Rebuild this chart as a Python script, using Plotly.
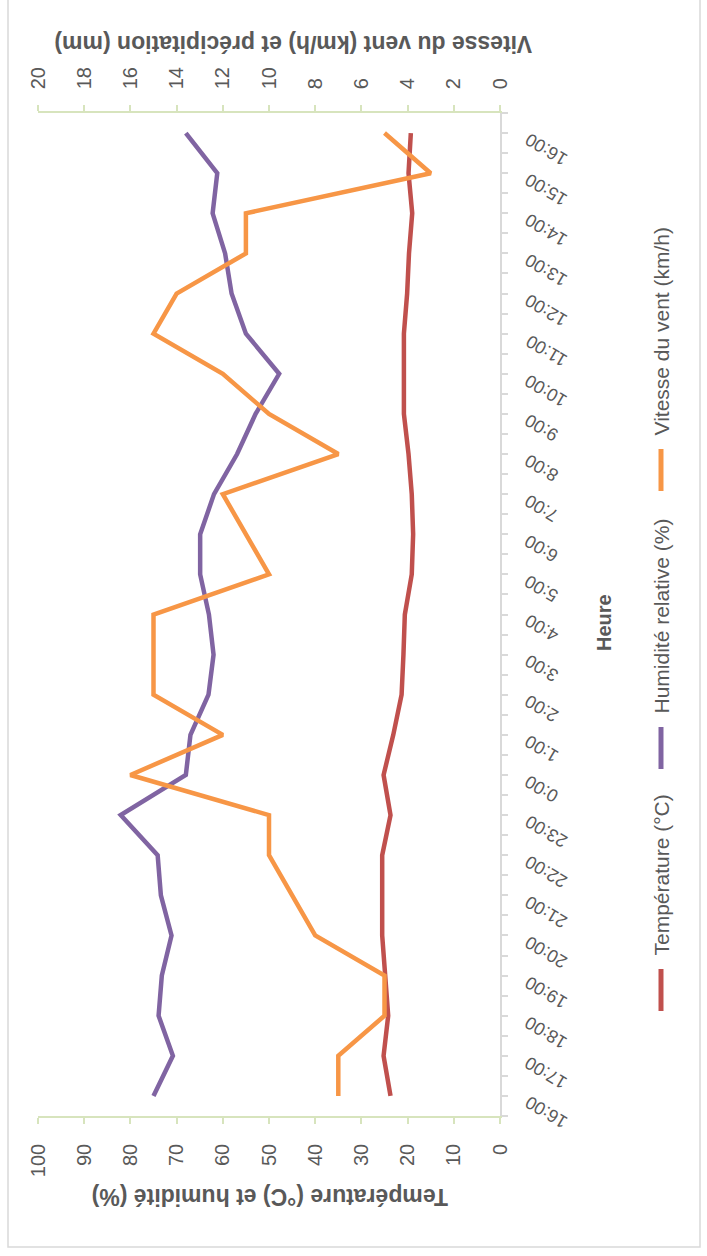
import math
import plotly.graph_objects as go

# Hourly readings, 16:00 to 16:00 the next day
heures = ["16:00", "17:00", "18:00", "19:00", "20:00", "21:00", "22:00", "23:00",
          "0:00", "1:00", "2:00", "3:00", "4:00", "5:00", "6:00", "7:00",
          "8:00", "9:00", "10:00", "11:00", "12:00", "13:00", "14:00", "15:00", "16:00"]
temperature = [23.7, 25.2, 24.2, 24.9, 25.5, 25.5, 25.5, 23.7, 25.2, 23.1, 21.3, 20.9, 20.6,
               19.1, 18.8, 19.1, 19.8, 20.8, 20.8, 20.8, 20.1, 19.7, 19.0, 19.8, 19.3]
humidite = [75.0, 70.8, 73.9, 73.2, 71.1, 73.4, 74.1, 82.1, 68.0, 67.0, 63.1, 62.0, 63.0,
            64.9, 64.9, 61.9, 56.9, 52.9, 47.8, 55.0, 58.1, 59.5, 62.2, 61.2, 68.0]
vent = [7, 7, 5, 5, 8, 9, 10, 10, 16, 12, 15, 15, 15,
        10, 11, 12, 7, 10, 12, 15, 14, 11, 11, 3, 5]

W, H = 707, 1256
GRAY = "#595959"
GREEN = "#d7e4bd"
AXIS_GRAY = "#d9d9d9"

# plot area in pixels
LEFT, RIGHT, TOP, BOTTOM = 38, 500, 113, 1116


def px(x):
    return x / W


def py(y):
    return 1 - y / H


idx = list(range(len(heures)))

fig = go.Figure()
fig.add_trace(go.Scatter(x=temperature, y=idx, mode="lines", name="Température (°C)",
                         line=dict(color="#C0504D", width=4.5), xaxis="x", yaxis="y"))
fig.add_trace(go.Scatter(x=humidite, y=idx, mode="lines", name="Humidité relative (%)",
                         line=dict(color="#8064A2", width=4.5), xaxis="x", yaxis="y"))
fig.add_trace(go.Scatter(x=vent, y=idx, mode="lines", name="Vitesse du vent (km/h)",
                         line=dict(color="#F79646", width=4.5), xaxis="x2", yaxis="y"))

# category ticks every half hour
tickvals = [i / 2 - 0.5 for i in range(2 * len(heures) + 1)]

tick_font = dict(family="Liberation Sans, Arial, sans-serif", size=20, color=GRAY)

fig.update_layout(
    width=W, height=H,
    margin=dict(l=0, r=0, t=0, b=0),
    paper_bgcolor="white", plot_bgcolor="white",
    showlegend=False,
    xaxis=dict(domain=[px(LEFT), px(RIGHT)], range=[100, 0], tickvals=list(range(0, 101, 10)),
               tickangle=-90, ticks="outside", ticklen=6, tickcolor=GREEN, tickwidth=1.5,
               showline=True, linecolor=GREEN, linewidth=1.5, showgrid=False, zeroline=False,
               tickfont=tick_font, ticklabelstandoff=12, anchor="y", automargin=False),
    xaxis2=dict(domain=[px(LEFT), px(RIGHT)], range=[20, 0], tickvals=list(range(0, 21, 2)),
                tickangle=-90, ticks="outside", ticklen=6, tickcolor=GREEN, tickwidth=1.5,
                showline=True, linecolor=GREEN, linewidth=1.5, showgrid=False, zeroline=False,
                tickfont=tick_font, ticklabelstandoff=12, side="top", overlaying="x",
                anchor="y", automargin=False),
    yaxis=dict(domain=[py(BOTTOM), py(TOP)], range=[-0.5, len(heures) - 0.5],
               tickvals=tickvals, showticklabels=False, side="right",
               ticks="outside", ticklen=6, tickcolor=AXIS_GRAY, tickwidth=1.5,
               showline=True, linecolor=AXIS_GRAY, linewidth=1.5, showgrid=False,
               zeroline=False, anchor="x", automargin=False),
)

title_font = dict(family="Liberation Sans, Arial, sans-serif", size=23, color=GRAY)
legend_font = dict(family="Liberation Sans Narrow, Arial Narrow, sans-serif", size=21, color=GRAY)

annotations = [
    dict(text="<b>Température (°C) et humidité (%)</b>", x=px(270), y=py(1197),
         textangle=180, font=title_font),
    dict(text="<b>Vitesse du vent (km/h) et précipitation (mm)</b>", x=px(293), y=py(44),
         textangle=180, font=title_font),
    dict(text="<b>Heure</b>", x=px(604), y=py(623), textangle=-90,
         font=dict(family="Liberation Sans, Arial, sans-serif", size=20, color=GRAY)),
]

# hour labels beside the category axis, slanted and upside down
LABEL_SIZE = 18
ALPHA = 31  # slant above horizontal, degrees
ca, sa = math.cos(math.radians(ALPHA)), math.sin(math.radians(ALPHA))
step = (BOTTOM - TOP) / len(heures)
for i, lab in enumerate(heures):
    y_tick = BOTTOM - (i + 0.5) * step
    length = sum(0.278 if ch == ":" else 0.556 for ch in lab) * LABEL_SIZE
    # the end of the label sits next to the axis, the rest runs down and away
    ex, ey = RIGHT + 27, y_tick + 5
    cx, cy = ex + length / 2 * ca, ey + length / 2 * sa
    annotations.append(dict(text=lab, x=px(cx), y=py(cy), textangle=-(180 - ALPHA),
                            font=dict(family="Liberation Sans, Arial, sans-serif",
                                      size=LABEL_SIZE, color=GRAY)))

# legend, drawn along the right edge: (name, colour, key bottom, key top, text bottom)
legend_items = [
    ("Température (°C)", "#C0504D", 1014, 966, 958),
    ("Humidité relative (%)", "#8064A2", 772, 724, 716),
    ("Vitesse du vent (km/h)", "#F79646", 494, 446, 438),
]
shapes = []
for name, color, key_bottom, key_top, text_bottom in legend_items:
    shapes.append(dict(type="line", xref="paper", yref="paper",
                       x0=px(661), x1=px(661), y0=py(key_bottom - 3), y1=py(key_top + 3),
                       line=dict(color=color, width=5)))
    annotations.append(dict(text=name, x=px(661), y=py(text_bottom), textangle=-90,
                            yanchor="bottom", xanchor="center", font=legend_font))

for a in annotations:
    a.setdefault("xanchor", "center")
    a.setdefault("yanchor", "middle")
    a.update(xref="paper", yref="paper", showarrow=False)

shapes.append(dict(type="rect", xref="paper", yref="paper", x0=px(8), x1=px(700),
                   y0=py(1247), y1=py(-5), line=dict(color=AXIS_GRAY, width=1.5)))

fig.update_layout(annotations=annotations, shapes=shapes)
fig.write_html("out.html")
